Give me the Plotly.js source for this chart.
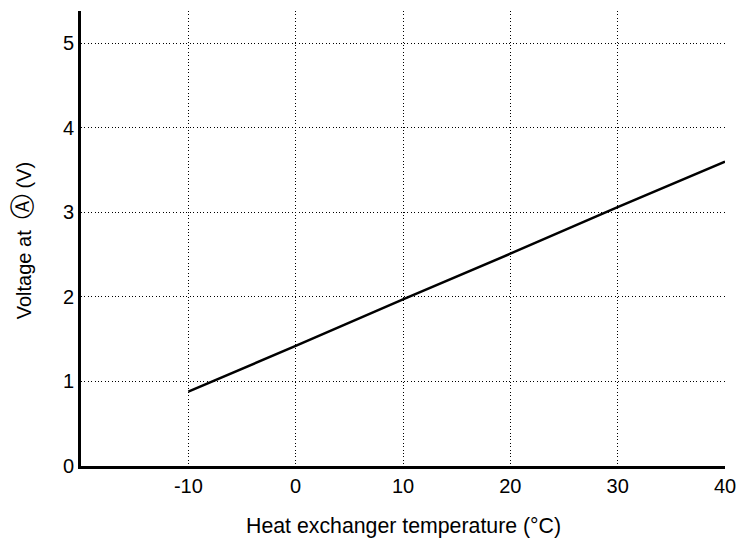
<!DOCTYPE html>
<html>
<head>
<meta charset="utf-8">
<script src="https://cdn.plot.ly/plotly-3.0.1.min.js"></script>
<style>html,body{margin:0;padding:0;background:#fff;}#chart{width:747px;height:542px;}</style>
</head>
<body>
<div id="chart"></div>
<script>
// Data
const temperature = [-10, 0, 10, 20, 30, 40];
const voltage = [0.88, 1.42, 1.97, 2.51, 3.06, 3.60];
const xTicks = [-10, 0, 10, 20, 30, 40];
const yTicks = [0, 1, 2, 3, 4, 5];
const xTitle = 'Heat exchanger temperature (°C)';
const yTitle = 'Voltage at  <span style="font-size:25px">Ⓐ</span> (V)';

const fontFam = 'Liberation Sans, Arial, Helvetica, sans-serif';
const fs = 20;

Plotly.newPlot('chart', [{
  x: temperature,
  y: voltage,
  type: 'scatter',
  mode: 'lines',
  line: {color: '#000', width: 2.5},
  hoverinfo: 'skip'
}], {
  width: 747, height: 542,
  margin: {l: 81, r: 22, t: 11, b: 76},
  paper_bgcolor: '#fff', plot_bgcolor: '#fff',
  showlegend: false,
  font: {family: fontFam, color: '#000', size: fs},
  xaxis: {
    range: [-20, 40],
    tickvals: xTicks,
    ticktext: xTicks.map(String),
    showgrid: true, gridcolor: '#000', griddash: '1px,2.4px', gridwidth: 1,
    zeroline: false,
    showline: true, linecolor: '#000', linewidth: 3,
    ticks: '', ticklen: 0,
    tickfont: {family: fontFam, size: fs, color: '#000'}
  },
  yaxis: {
    range: [0, 5.38],
    tickvals: yTicks,
    ticktext: yTicks.map(String),
    showgrid: true, gridcolor: '#000', griddash: '1px,2.4px', gridwidth: 1,
    zeroline: false,
    showline: true, linecolor: '#000', linewidth: 3,
    ticks: '', ticklen: 0,
    tickfont: {family: fontFam, size: fs, color: '#000'}
  },
  annotations: [
    {text: xTitle, xref: 'paper', yref: 'paper', x: 0.5, y: -0.132,
     xanchor: 'center', yanchor: 'middle', showarrow: false,
     font: {family: fontFam, size: 21.3, color: '#000'}},
    {text: yTitle, xref: 'paper', yref: 'paper', x: -0.0916, y: 0.494,
     xanchor: 'center', yanchor: 'middle', textangle: -90, showarrow: false,
     font: {family: fontFam, size: 20, color: '#000'}}
  ]
}, {staticPlot: true, displayModeBar: false});
</script>
</body>
</html>
